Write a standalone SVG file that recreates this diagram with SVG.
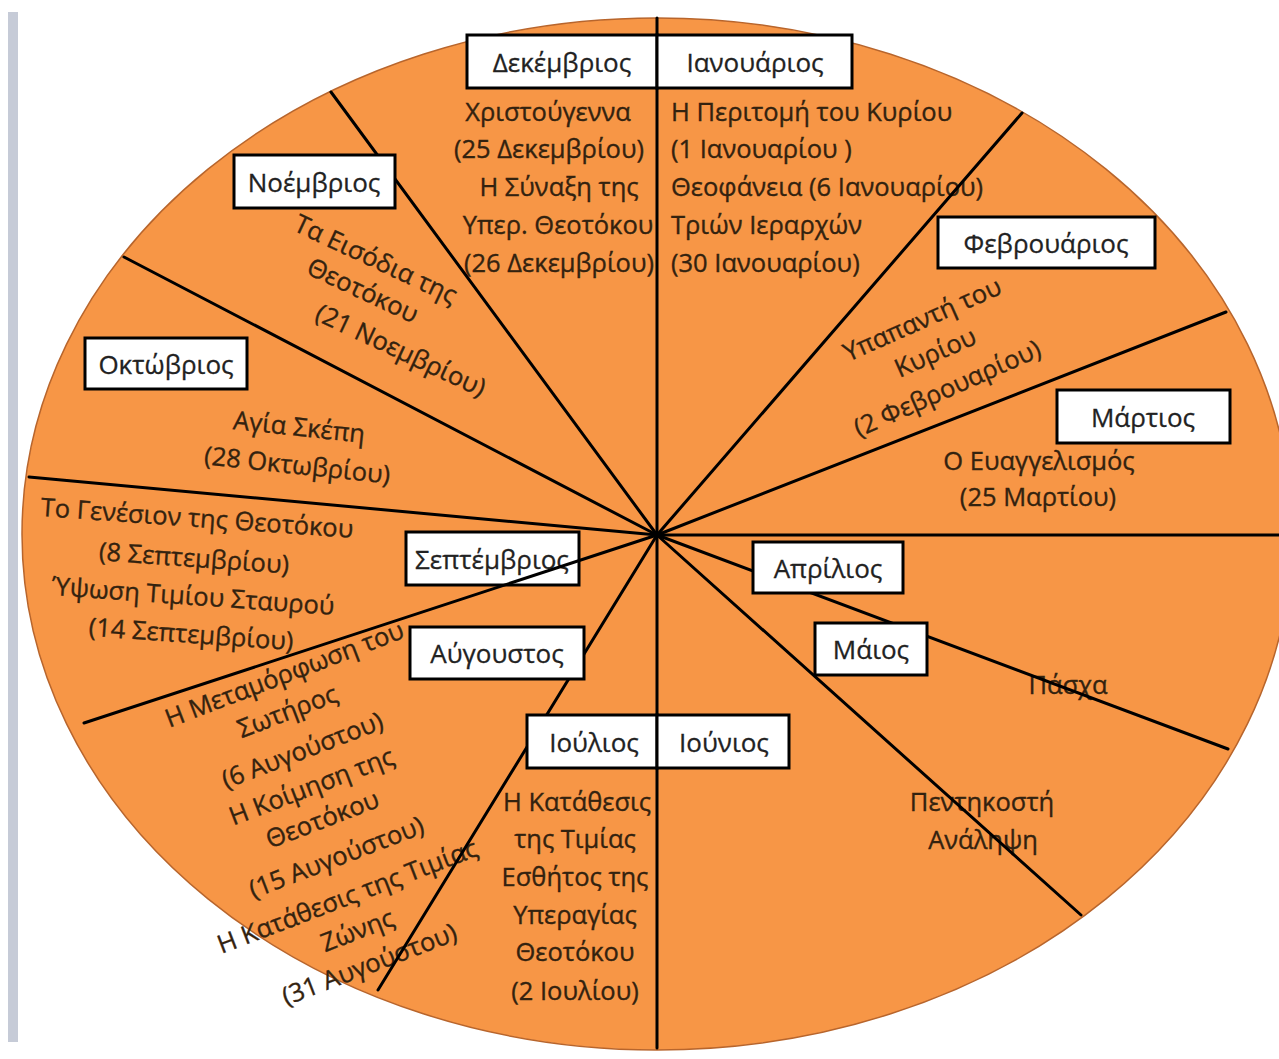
<svg xmlns="http://www.w3.org/2000/svg" width="1279" height="1059" viewBox="0 0 1279 1059">
<style>
.ev{font-family:"Open Sans","Noto Sans","DejaVu Sans",sans-serif;font-size:25.5px;fill:#33220f;stroke:#33220f;stroke-width:0.35;text-anchor:middle}
.evl{font-family:"Open Sans","Noto Sans","DejaVu Sans",sans-serif;font-size:25.5px;fill:#33220f;stroke:#33220f;stroke-width:0.35;text-anchor:start}
.box{fill:#ffffff;stroke:#000000;stroke-width:3}
.mo{font-family:"Open Sans","Noto Sans","DejaVu Sans",sans-serif;font-size:26px;fill:#222222;stroke:#222222;stroke-width:0.3;text-anchor:middle}
.ln{stroke:#000000;stroke-width:3;fill:none;stroke-linecap:round}
</style>
<rect x="0" y="0" width="1279" height="1059" fill="#ffffff"/>
<rect x="8" y="12" width="10" height="1030" fill="#c6cbd7"/>
<ellipse id="wheel" cx="657" cy="534" rx="635" ry="516" fill="#f79646" stroke="#b8652c" stroke-width="1.5"/>

<g id="events-dec">
<text class="ev" x="548" y="121">Χριστούγεννα</text>
<text class="ev" x="549" y="158">(25 Δεκεμβρίου)</text>
<text class="ev" x="559" y="196">Η Σύναξη της</text>
<text class="ev" x="558" y="234">Υπερ. Θεοτόκου</text>
<text class="ev" x="559" y="272">(26 Δεκεμβρίου)</text>
</g>
<g id="events-jan">
<text class="evl" x="671" y="121">Η Περιτομή του Κυρίου</text>
<text class="evl" x="671" y="158">(1 Ιανουαρίου )</text>
<text class="evl" x="671" y="196">Θεοφάνεια (6 Ιανουαρίου)</text>
<text class="evl" x="671" y="234">Τριών Ιεραρχών</text>
<text class="evl" x="671" y="272">(30 Ιανουαρίου)</text>
</g>
<g id="events-feb">
<text class="ev" transform="translate(923 321) rotate(-24)" y="7">Υπαπαντή του</text>
<text class="ev" transform="translate(936 354) rotate(-24)" y="7">Κυρίου</text>
<text class="ev" transform="translate(948 390) rotate(-24)" y="7">(2 Φεβρουαρίου)</text>
</g>
<g id="events-mar">
<text class="ev" x="1039" y="470">Ο Ευαγγελισμός</text>
<text class="ev" x="1038" y="506">(25 Μαρτίου)</text>
</g>
<g id="events-apr">
<text class="ev" x="1068" y="694">Πάσχα</text>
</g>
<g id="events-jun">
<text class="ev" x="982" y="811">Πεντηκοστή</text>
<text class="ev" x="983" y="849">Ανάληψη</text>
</g>
<g id="events-jul">
<text class="ev" x="577" y="811">Η Κατάθεσις</text>
<text class="ev" x="575" y="848">της Τιμίας</text>
<text class="ev" x="575" y="886">Εσθήτος της</text>
<text class="ev" x="575" y="924">Υπεραγίας</text>
<text class="ev" x="575" y="961">Θεοτόκου</text>
<text class="ev" x="575" y="1000">(2 Ιουλίου)</text>
</g>
<g id="events-aug">
<text class="ev" transform="translate(285 676) rotate(-21)" y="7">Η Μεταμόρφωση του</text>
<text class="ev" transform="translate(288 713) rotate(-21)" y="7">Σωτήρος</text>
<text class="ev" transform="translate(303 752) rotate(-21)" y="7">(6 Αυγούστου)</text>
<text class="ev" transform="translate(312 788) rotate(-21)" y="7">Η Κοίμηση της</text>
<text class="ev" transform="translate(323 821) rotate(-21)" y="7">Θεοτόκου</text>
<text class="ev" transform="translate(337 859) rotate(-21)" y="7">(15 Αυγούστου)</text>
<text class="ev" transform="translate(348 898) rotate(-21)" y="7">Η Κατάθεσις της Τιμίας</text>
<text class="ev" transform="translate(358 932) rotate(-21)" y="7">Ζώνης</text>
<text class="ev" transform="translate(370 966) rotate(-21)" y="7">(31 Αυγούστου)</text>
</g>
<g id="events-sep">
<text class="ev" transform="translate(197 520) rotate(4)" y="7">Το Γενέσιον της Θεοτόκου</text>
<text class="ev" transform="translate(194 560) rotate(4)" y="7">(8 Σεπτεμβρίου)</text>
<text class="ev" transform="translate(193 598) rotate(4)" y="7">Ύψωση Τιμίου Σταυρού</text>
<text class="ev" transform="translate(191 636) rotate(4)" y="7">(14 Σεπτεμβρίου)</text>
</g>
<g id="events-oct">
<text class="ev" transform="translate(299 429) rotate(6)" y="7">Αγία Σκέπη</text>
<text class="ev" transform="translate(297 467) rotate(6)" y="7">(28 Οκτωβρίου)</text>
</g>
<g id="events-nov">
<text class="ev" transform="translate(375 261) rotate(25)" y="7">Τα Εισόδια της</text>
<text class="ev" transform="translate(362 292) rotate(25)" y="7">Θεοτόκου</text>
<text class="ev" transform="translate(400 352) rotate(25)" y="7">(21 Νοεμβρίου)</text>
</g>

<g id="sep">
<rect class="box" x="406" y="532" width="173" height="53"/>
<text class="mo" x="492" y="569">Σεπτέμβριος</text>
</g>

<g id="connectors">
<line class="ln" x1="657" y1="18" x2="657" y2="1048"/>
<line class="ln" x1="657" y1="535" x2="1279" y2="535"/>
<line class="ln" x1="657" y1="535" x2="1022" y2="113"/>
<line class="ln" x1="657" y1="535" x2="1226" y2="312"/>
<line class="ln" x1="657" y1="535" x2="1228" y2="749"/>
<line class="ln" x1="657" y1="535" x2="1081" y2="915"/>
<line class="ln" x1="657" y1="535" x2="378" y2="990"/>
<line class="ln" x1="657" y1="535" x2="84" y2="723"/>
<line class="ln" x1="657" y1="535" x2="29" y2="477"/>
<line class="ln" x1="657" y1="535" x2="124" y2="257"/>
<line class="ln" x1="657" y1="535" x2="331" y2="92"/>
</g>

<g id="dec">
<rect class="box" x="467" y="35" width="190" height="53"/>
<text class="mo" x="562" y="72">Δεκέμβριος</text>
</g>
<g id="jan">
<rect class="box" x="657" y="35" width="195" height="53"/>
<text class="mo" x="755" y="72">Ιανουάριος</text>
</g>
<g id="nov">
<rect class="box" x="234" y="155" width="161" height="53"/>
<text class="mo" x="314" y="192">Νοέμβριος</text>
</g>
<g id="oct">
<rect class="box" x="85" y="338" width="162" height="51"/>
<text class="mo" x="166" y="374">Οκτώβριος</text>
</g>
<g id="feb">
<rect class="box" x="938" y="217" width="217" height="51"/>
<text class="mo" x="1046" y="253">Φεβρουάριος</text>
</g>
<g id="mar">
<rect class="box" x="1057" y="390" width="173" height="53"/>
<text class="mo" x="1143" y="427">Μάρτιος</text>
</g>
<g id="apr">
<rect class="box" x="753" y="542" width="150" height="51"/>
<text class="mo" x="828" y="578">Απρίλιος</text>
</g>
<g id="may">
<rect class="box" x="815" y="623" width="112" height="52"/>
<text class="mo" x="871" y="659">Μάιος</text>
</g>
<g id="aug">
<rect class="box" x="410" y="627" width="174" height="52"/>
<text class="mo" x="497" y="663">Αύγουστος</text>
</g>
<g id="jul">
<rect class="box" x="527" y="715" width="130" height="53"/>
<text class="mo" x="594" y="752">Ιούλιος</text>
</g>
<g id="jun">
<rect class="box" x="657" y="715" width="132" height="53"/>
<text class="mo" x="724" y="752">Ιούνιος</text>
</g>
</svg>
